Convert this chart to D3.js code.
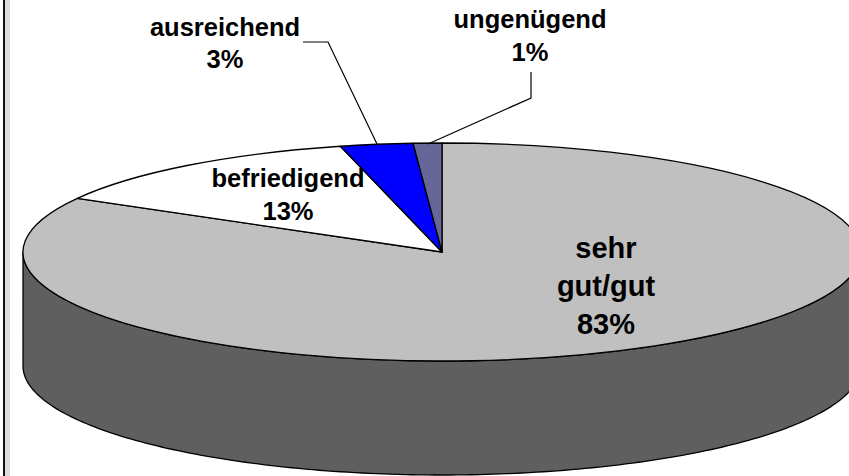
<!DOCTYPE html>
<html>
<head>
<meta charset="utf-8">
<script src="https://cdn.jsdelivr.net/npm/d3@7"></script>
<style>
html, body { margin: 0; padding: 0; background: #fff; overflow: hidden; }
svg { display: block; }
text { font-family: "Liberation Sans", Arial, sans-serif; font-weight: bold; fill: #000; text-anchor: middle; }
</style>
</head>
<body>
<script>
const categories = ['sehr gut/gut', 'befriedigend', 'ausreichend', 'ungenügend'];
// angles, the labels carry the rounded figures
const shares = [83.2, 12.9, 2.8, 1.1];
const colors = ['#c0c0c0', '#ffffff', '#0000ff', '#666699'];
const labelLines = [['sehr', 'gut/gut', '83%'], ['befriedigend', '13%'], ['ausreichend', '3%'], ['ungenügend', '1%']];

let width = 849, height = 476;
let cx = 442, cy = 252, rx = 419, ry = 109, depth = 114;

let svg = d3.select('body').append('svg')
    .attr('width', width)
    .attr('height', height);

// window frame on the left
svg.append('rect').attr('x', 5).attr('y', 0).attr('width', 5).attr('height', height).attr('fill', '#dddddd');
svg.append('rect').attr('x', 3).attr('y', 0).attr('width', 2).attr('height', height).attr('fill', '#111111');

// side wall, lower half of the ellipse pushed down by depth
let px = t => cx + rx * Math.cos(t), py = t => cy + ry * Math.sin(t);
let lower = d3.range(0, 181).map(d => d * Math.PI / 180);
let wall = lower.map(t => [px(t), py(t)]);
let wallLow = lower.slice().reverse().map(t => [px(t), py(t) + depth]);
svg.append('path')
    .attr('d', d3.line()(wall.concat(wallLow)) + 'Z')
    .attr('fill', '#5f5f5f')
    .attr('stroke', '#000')
    .attr('stroke-width', 1.3);

let pie = d3.pie().sort(null)(shares);
let arc = d3.arc().innerRadius(0).outerRadius(rx);

svg.append('g')
    .attr('transform', `translate(${cx},${cy}) scale(1,${ry / rx})`)
    .selectAll('path')
    .data(pie)
    .join('path')
    .attr('d', arc)
    .attr('fill', (d, i) => colors[i])
    .attr('stroke', '#000')
    .attr('stroke-width', 1.3)
    .attr('stroke-linejoin', 'round')
    .attr('vector-effect', 'non-scaling-stroke');

// leader lines
let leaders = [
    [[303, 42], [328, 42], [377, 144]],
    [[531, 72], [531, 98], [428, 144]]
];
svg.selectAll('.leader').data(leaders).join('path')
    .attr('class', 'leader')
    .attr('d', d3.line())
    .attr('fill', 'none')
    .attr('stroke', '#000')
    .attr('stroke-width', 1.2);

// label anchors: centre x, first baseline, line step, font size
let labelPos = [[606, 258, 38, 29], [288, 187, 33, 25.5], [225, 36, 32, 25.5], [530, 28, 33, 25.5]];
labelLines.forEach((lines, i) => {
    let p = labelPos[i];
    let t = svg.append('text').attr('class', 'label').style('font-size', p[3] + 'px');
    lines.forEach((l, j) => {
        t.append('tspan').attr('x', p[0]).attr('y', p[1] + j * p[2]).text(l);
    });
});
</script>
</body>
</html>
